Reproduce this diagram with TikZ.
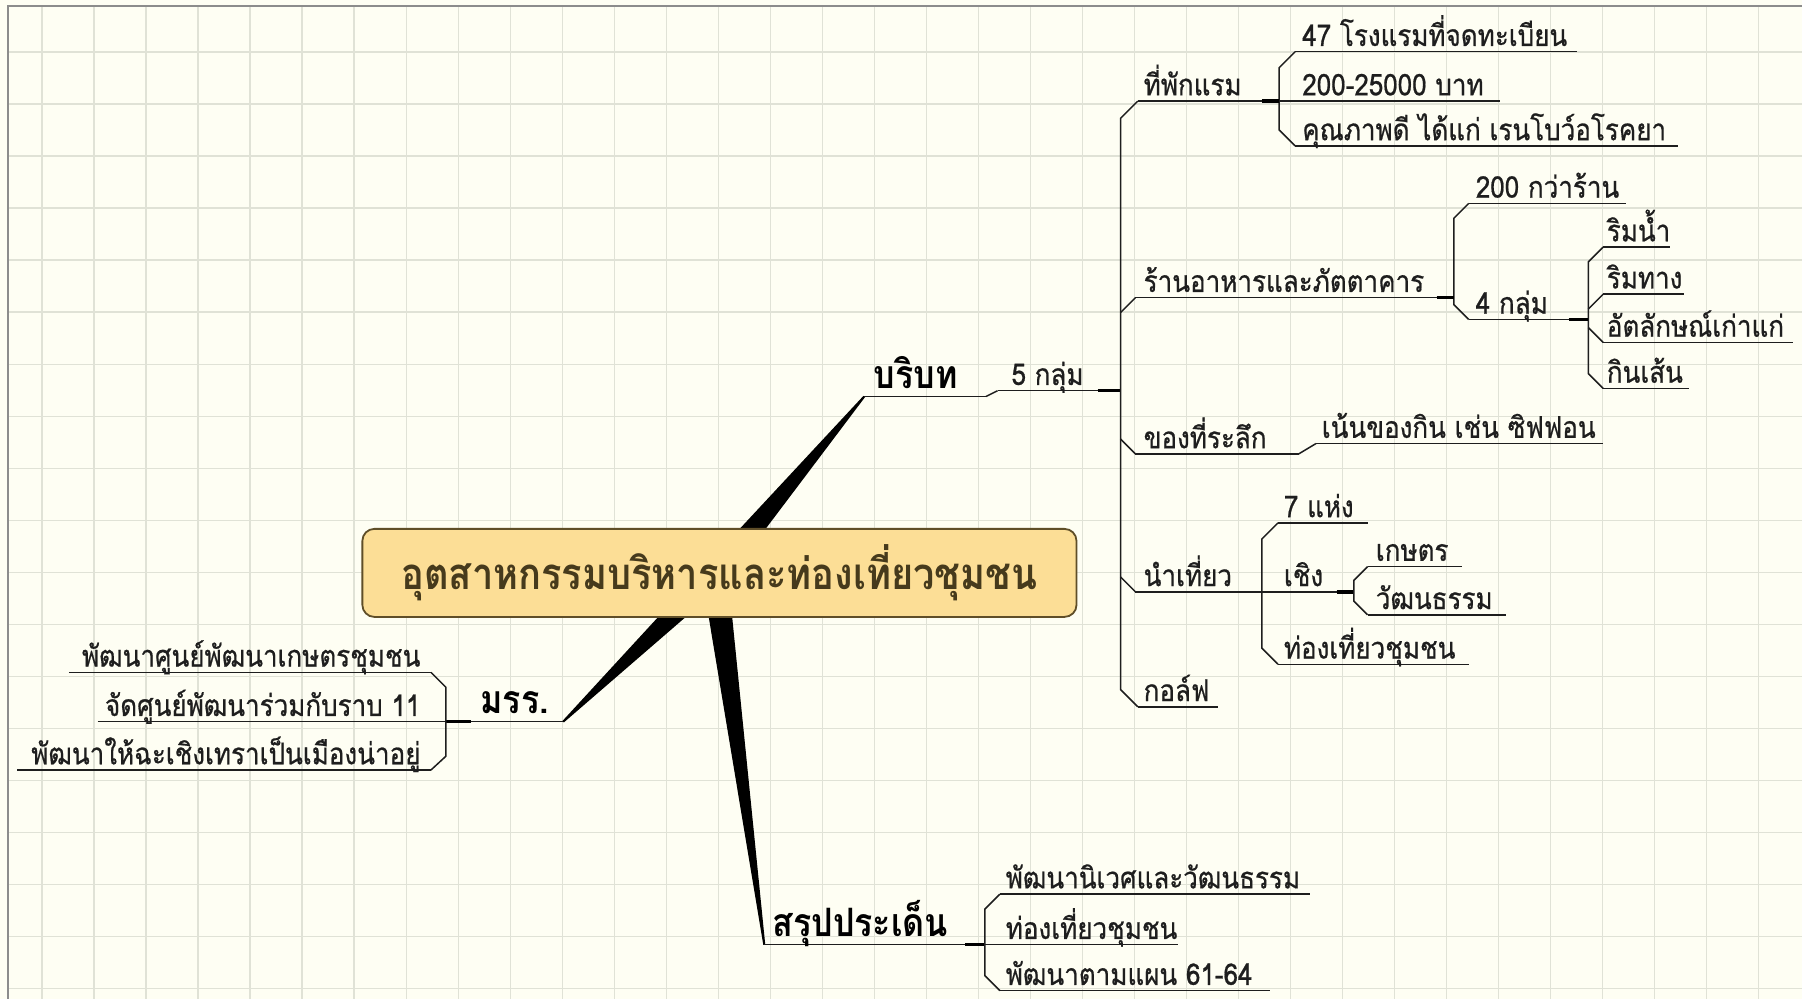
\documentclass[tikz,border=0pt]{standalone}
\usepackage{graphicx}
\usepackage{fontspec}
\newfontfamily\thai[Script=Thai]{Loma}
\newfontfamily\thaimed[Script=Thai,FakeBold=0.7]{Loma}
\usetikzlibrary{calc}

\definecolor{bg}{RGB}{254,254,243}
\definecolor{gridc}{RGB}{224,226,214}
\definecolor{framec}{RGB}{140,140,140}
\definecolor{boxfill}{RGB}{252,222,150}
\definecolor{boxline}{RGB}{95,78,40}
\definecolor{titlec}{RGB}{70,58,28}
\definecolor{ink}{RGB}{30,30,30}

\newcommand\tall[1]{\scalebox{1}[1.15]{#1}}

\tikzset{
  lbl/.style={anchor=base west, inner sep=0pt, font=\thaimed\fontsize{26}{26}\selectfont, text=ink},
  rlbl/.style={anchor=base east, inner sep=0pt, font=\thaimed\fontsize{26}{26}\selectfont, text=ink},
  mainlbl/.style={anchor=base west, inner sep=0pt, font=\thai\bfseries\fontsize{34}{34}\selectfont, text=black},
  uline/.style={draw=ink, line width=1.5pt},
  conn/.style={draw=ink, line width=1.5pt, line join=miter},
  stub/.style={draw=black, line width=3.5pt},
  wedgefill/.style={fill=black},
  rootbox/.style={draw=boxline, line width=1.8pt, fill=boxfill, rounded corners=12pt,
    minimum width=714pt, minimum height=88pt, inner sep=0pt,
    font=\thai\bfseries\fontsize{38}{38}\selectfont, text=titlec},
}

% name, x1, x2, y, textx, text   (left aligned label)
\newcommand\mlab[6]{%
  \coordinate (#1-l) at (#2,#4);
  \coordinate (#1-r) at (#3,#4);
  \draw[uline] (#1-l) -- (#1-r);
  \node[lbl] (#1) at (#5,#4-5) {\tall{#6}};
}
% right aligned label
\newcommand\rlab[6]{%
  \coordinate (#1-l) at (#2,#4);
  \coordinate (#1-r) at (#3,#4);
  \draw[uline] (#1-l) -- (#1-r);
  \node[rlbl] (#1) at (#5,#4-5) {\tall{#6}};
}
% main (bold) label
\newcommand\blab[6]{%
  \coordinate (#1-l) at (#2,#4);
  \coordinate (#1-r) at (#3,#4);
  \draw[uline] (#1-l) -- (#1-r);
  \node[mainlbl] (#1) at (#5,#4-7) {\tall{#6}};
}
% tapered branch from hub to tip
\newcommand\wedgebr[2]{%
  \fill[wedgefill] ($(#2)!1pt!90:(#1)$) -- ($(#2)!1pt!-90:(#1)$)
     -- ($(#1)!13pt!90:(#2)$) -- ($(#1)!13pt!-90:(#2)$) -- cycle;
}

\begin{document}
\begin{tikzpicture}[x=1.149pt,y=-1.149pt]
\useasboundingbox (0,0) rectangle (1568,869);
\fill[bg] (0,0) rectangle (1568,869);
% grid
\foreach \k in {0,...,34} {\draw[gridc, line width=1.2pt] ({36.55+45.26*\k},5) -- ({36.55+45.26*\k},869);}
\foreach \k in {1,...,19} {\draw[gridc, line width=1.2pt] (7,{45.26*\k}) -- (1568,{45.26*\k});}
% frame
\draw[framec, line width=1.6pt] (7,869) -- (7,5) -- (1568,5);

% hub and tapered main branches
\coordinate (hub) at (622,500);
\coordinate (tipB) at (752,345);
\coordinate (tipM) at (490,628);
\coordinate (tipS) at (665,822);
\wedgebr{hub}{tipB}
\wedgebr{hub}{tipM}
\wedgebr{hub}{tipS}

% root
\node[rootbox] (root) at (626,498.5) {\tall{อุตสาหกรรมบริหารและท่องเที่ยวชุมชน}};

% ---------- บริบท ----------
\blab{ctx}{752}{858}{345}{760}{บริบท}
\mlab{five}{868}{975}{340}{880}{5 กลุ่ม}
\draw[conn] (ctx-r) -- (five-l);
\draw[stub] (955,340) -- (five-r);

\mlab{hotel}{990}{1113}{88}{995}{ที่พักแรม}
\mlab{rest}{988}{1265}{259}{995}{ร้านอาหารและภัตตาคาร}
\mlab{souv}{988}{1130}{395}{995}{ของที่ระลึก}
\mlab{tour}{988}{1098}{515}{995}{นำเที่ยว}
\mlab{golf}{990}{1060}{615}{995}{กอล์ฟ}
% trunk
\draw[conn] (hotel-l) -- ++(-15,15) -- ($(golf-l)+(-15,-15)$) -- (golf-l);
\draw[conn] ($(rest-l)+(-13,13)$) -- (rest-l);
\draw[conn] ($(souv-l)+(-13,-13)$) -- (souv-l);
\draw[conn] ($(tour-l)+(-13,-13)$) -- (tour-l);

% ที่พักแรม
\mlab{hA}{1127}{1372}{45}{1133}{47 โรงแรมที่จดทะเบียน}
\mlab{hB}{1113}{1305}{88}{1133}{200-25000 บาท}
\mlab{hC}{1127}{1460}{127}{1133}{คุณภาพดี ได้แก่ เรนโบว์อโรคยา}
\draw[conn] (hA-l) -- ++(-14,14) -- ($(hC-l)+(-14,-14)$) -- (hC-l);
\draw[stub] (1098,88) -- (hotel-r);

% ร้านอาหาร
\mlab{rA}{1278}{1415}{177}{1284}{200 กว่าร้าน}
\mlab{rB}{1278}{1382}{278}{1284}{4 กลุ่ม}
\draw[conn] (rA-l) -- ++(-13,13) -- ($(rB-l)+(-13,-13)$) -- (rB-l);
\draw[stub] (1250,259) -- (rest-r);
\mlab{gA}{1395}{1453}{215}{1398}{ริมน้ำ}
\mlab{gB}{1395}{1465}{256}{1398}{ริมทาง}
\mlab{gC}{1395}{1560}{298}{1398}{อัตลักษณ์เก่าแก่}
\mlab{gD}{1395}{1470}{338}{1398}{กินเส้น}
\draw[conn] (gA-l) -- ++(-13,13) -- ($(gD-l)+(-13,-13)$) -- (gD-l);
\draw[conn] ($(gB-l)+(-13,13)$) -- (gB-l);
\draw[conn] ($(gC-l)+(-13,-13)$) -- (gC-l);
\draw[stub] (1365,278) -- (rB-r);

% ของที่ระลึก
\mlab{focus}{1145}{1395}{386}{1150}{เน้นของกิน เช่น ซิฟฟอน}
\draw[conn] (souv-r) -- (focus-l);

% นำเที่ยว
\mlab{tA}{1112}{1190}{455}{1117}{7 แห่ง}
\mlab{tB}{1098}{1178}{515}{1117}{เชิง}
\mlab{tC}{1112}{1278}{578}{1117}{ท่องเที่ยวชุมชน}
\draw[conn] (tA-l) -- ++(-14,14) -- ($(tC-l)+(-14,-14)$) -- (tC-l);
\draw[stub] (1163,515) -- (tB-r);
\mlab{cA}{1190}{1272}{493}{1197}{เกษตร}
\mlab{cB}{1190}{1310}{535}{1197}{วัฒนธรรม}
\draw[conn] (cA-l) -- ++(-12,12) -- ($(cB-l)+(-12,-12)$) -- (cB-l);

% ---------- มรร. ----------
\blab{mrr}{388}{490}{628}{418}{มรร.}
\draw[stub] (mrr-l) -- (410,628);
\rlab{mA}{60}{375}{585}{366}{พัฒนาศูนย์พัฒนาเกษตรชุมชน}
\rlab{mB}{85}{388}{628}{366}{จัดศูนย์พัฒนาร่วมกับราบ 11}
\rlab{mC}{15}{375}{670}{366}{พัฒนาให้ฉะเชิงเทราเป็นเมืองน่าอยู่}
\draw[conn] (mA-r) -- ++(13,13) -- ($(mC-r)+(13,-12)$) -- (mC-r);

% ---------- สรุปประเด็น ----------
\blab{sum}{665}{857}{822}{672}{สรุปประเด็น}
\draw[stub] (840,822) -- (sum-r);
\mlab{sA}{870}{1140}{778}{875}{พัฒนานิเวศและวัฒนธรรม}
\mlab{sB}{857}{1025}{822}{875}{ท่องเที่ยวชุมชน}
\mlab{sC}{870}{1105}{862}{875}{พัฒนาตามแผน 61-64}
\draw[conn] (sA-l) -- ++(-13,13) -- ($(sC-l)+(-13,-13)$) -- (sC-l);
\end{tikzpicture}
\end{document}
